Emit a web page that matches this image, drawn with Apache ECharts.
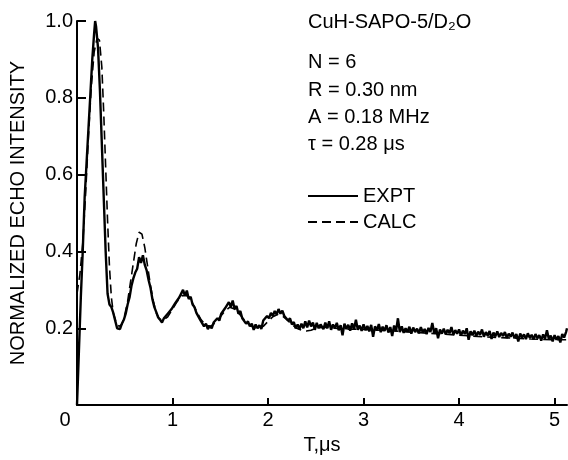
<!DOCTYPE html>
<html>
<head>
<meta charset="utf-8">
<script src="https://cdn.jsdelivr.net/npm/echarts@6/dist/echarts.min.js"></script>
<style>html,body{margin:0;padding:0;background:#fff}#c{width:568px;height:460px}</style>
</head>
<body>
<div id="c"></div>
<script>
// ---- data ----
var xTicks = [0, 1, 2, 3, 4, 5];
var yTicks = [0, 0.2, 0.4, 0.6, 0.8, 1.0];
var seriesNames = ['EXPT', 'CALC'];
var annotation = ['CuH-SAPO-5/D\u2082O', 'N = 6', 'R = 0.30 nm', 'A = 0.18 MHz', '\u03c4 = 0.28 \u03bcs'];

var exptData = [
[0,0],[0.02,0.14],[0.04,0.28],[0.06,0.4],[0.08,0.54],[0.1,0.63],[0.12,0.72],[0.14,0.81],[0.16,0.9],[0.18,0.97],[0.19,1.0],[0.2,0.985],
[0.22,0.93],[0.24,0.82],[0.26,0.68],[0.28,0.54],[0.3,0.4],[0.32,0.29],[0.34,0.262],[0.36,0.255],[0.38,0.24],[0.4,0.22],[0.42,0.2],[0.43,0.196],
[0.45,0.198],[0.47,0.212],[0.49,0.222],[0.51,0.238],[0.53,0.262],[0.55,0.28],[0.57,0.31],[0.59,0.33],[0.61,0.345],[0.63,0.355],[0.65,0.385],
[0.67,0.37],[0.69,0.39],[0.71,0.365],[0.73,0.35],[0.75,0.325],[0.77,0.305],[0.79,0.275],[0.81,0.255],[0.83,0.242],[0.85,0.228],[0.87,0.222],
[0.89,0.215],[0.91,0.226],[0.93,0.222],[0.95,0.238],[0.97,0.236],[0.99,0.25],[1.01,0.248],[1.03,0.266],[1.05,0.262],[1.07,0.28],[1.09,0.285],
[1.11,0.3],[1.13,0.285],[1.15,0.298],[1.17,0.276],[1.19,0.282],[1.21,0.262],[1.23,0.255],[1.25,0.24],[1.27,0.236],[1.29,0.222],[1.31,0.218],
[1.33,0.205],[1.35,0.212],[1.37,0.198],[1.39,0.206],[1.41,0.2],[1.43,0.215],[1.45,0.21],[1.47,0.226],[1.49,0.22],[1.51,0.238],[1.53,0.236],
[1.55,0.252],[1.57,0.248],[1.59,0.268],[1.61,0.256],[1.63,0.272],[1.65,0.25],[1.67,0.258],[1.69,0.238],[1.71,0.245],[1.73,0.226],[1.75,0.23],
[1.77,0.212],[1.79,0.218],[1.81,0.205],[1.83,0.212],[1.85,0.196],[1.87,0.21],[1.89,0.2],[1.91,0.208],[1.93,0.198],[1.95,0.22],[1.97,0.226],
[1.99,0.232],[2.01,0.226],[2.03,0.24],[2.05,0.232],[2.07,0.245],[2.09,0.236],[2.11,0.25],[2.13,0.238],[2.15,0.246],[2.17,0.232],[2.19,0.236],
[2.21,0.22],[2.23,0.226],[2.25,0.21],[2.27,0.216],[2.29,0.2],[2.31,0.21],[2.33,0.198],[2.35,0.212],[2.37,0.2],[2.39,0.218],[2.41,0.202],
[2.43,0.22],[2.45,0.205],[2.47,0.215],[2.49,0.196],[2.51,0.214],[2.53,0.2],[2.55,0.21],
[2.56,0.212],[2.58,0.198],[2.6,0.215],[2.62,0.2],[2.64,0.218],[2.66,0.196],[2.68,0.21],[2.7,0.2],[2.72,0.214],[2.74,0.195],[2.76,0.208],
[2.78,0.182],[2.8,0.212],[2.82,0.198],[2.84,0.209],[2.86,0.194],[2.88,0.213],[2.9,0.197],[2.92,0.222],[2.94,0.196],[2.96,0.207],[2.98,0.193],
[3.0,0.21],[3.02,0.195],[3.04,0.206],[3.06,0.192],[3.08,0.209],[3.1,0.178],[3.12,0.205],[3.14,0.194],[3.16,0.211],[3.18,0.19],[3.2,0.204],
[3.22,0.193],[3.24,0.208],[3.26,0.189],[3.28,0.203],[3.3,0.18],[3.32,0.207],[3.34,0.192],[3.36,0.226],[3.38,0.19],[3.4,0.205],[3.42,0.188],
[3.44,0.2],[3.46,0.191],[3.48,0.204],[3.5,0.186],[3.52,0.202],[3.54,0.19],[3.56,0.199],[3.58,0.187],[3.6,0.203],[3.62,0.189],[3.64,0.198],
[3.66,0.185],[3.68,0.201],[3.7,0.19],[3.72,0.214],[3.74,0.187],[3.76,0.2],[3.78,0.174],[3.8,0.197],[3.82,0.186],[3.84,0.199],[3.86,0.184],
[3.88,0.196],[3.9,0.187],[3.92,0.203],[3.94,0.183],[3.96,0.195],[3.98,0.186],[4.0,0.197],[4.02,0.181],[4.04,0.194],[4.06,0.185],[4.08,0.2],
[4.1,0.17],[4.12,0.192],[4.14,0.182],[4.16,0.194],[4.18,0.18],[4.2,0.191],[4.22,0.183],[4.24,0.197],[4.26,0.178],[4.28,0.19],[4.3,0.181],
[4.32,0.193],[4.34,0.172],[4.36,0.189],[4.38,0.179],[4.4,0.192],[4.42,0.177],[4.44,0.188],[4.46,0.18],[4.48,0.19],[4.5,0.175],[4.52,0.186],
[4.54,0.178],[4.56,0.189],[4.58,0.174],[4.6,0.185],[4.62,0.166],[4.64,0.186],[4.66,0.176],[4.68,0.184],[4.7,0.172],[4.72,0.187],[4.74,0.175],
[4.76,0.183],[4.78,0.171],[4.8,0.185],[4.82,0.174],[4.84,0.182],[4.86,0.168],[4.88,0.184],[4.9,0.173],[4.92,0.195],[4.94,0.172],[4.96,0.181],
[4.98,0.166],[5.0,0.182],[5.02,0.17],[5.04,0.18],[5.06,0.163],[5.08,0.185],[5.1,0.176],[5.12,0.19],[5.13,0.2]
];

var calcData = [
[0,0.29],[0.03,0.34],[0.06,0.42],[0.09,0.55],[0.12,0.7],[0.15,0.83],[0.18,0.92],[0.21,0.955],[0.235,0.95],[0.26,0.88],[0.28,0.76],[0.3,0.62],
[0.32,0.48],[0.34,0.36],[0.36,0.28],[0.38,0.24],[0.41,0.215],[0.44,0.205],[0.47,0.21],[0.5,0.235],[0.53,0.27],[0.56,0.32],[0.59,0.37],
[0.62,0.42],[0.65,0.45],[0.68,0.445],[0.71,0.41],[0.74,0.36],[0.77,0.31],[0.8,0.27],[0.83,0.24],[0.86,0.225],[0.9,0.22],[0.95,0.23],[1.0,0.25],
[1.05,0.27],[1.1,0.285],[1.15,0.285],[1.2,0.27],[1.25,0.245],[1.3,0.222],[1.35,0.208],[1.4,0.205],[1.45,0.215],[1.5,0.23],[1.55,0.245],
[1.6,0.255],[1.65,0.25],[1.7,0.237],[1.75,0.222],[1.8,0.21],[1.85,0.202],[1.9,0.198],[1.95,0.205],[2.0,0.218],[2.05,0.23],[2.1,0.236],
[2.15,0.232],[2.2,0.222],[2.25,0.21],[2.3,0.2],[2.35,0.195],[2.4,0.193],[2.45,0.195],[2.5,0.2],[2.6,0.203],[2.7,0.2],[2.8,0.198],[3.0,0.197],
[3.25,0.194],[3.5,0.19],[3.75,0.186],[4.0,0.182],[4.25,0.178],[4.5,0.175],[4.75,0.172],[5.0,0.17],[5.13,0.17]
];

// ---- chart ----
var FONT = 'Liberation Sans';
var chart = echarts.init(document.getElementById('c'), null, {renderer: 'canvas'});
var rowsY = [22, 62, 90, 117, 144];
var graphics = annotation.map(function (t, i) {
  return {type: 'text', x: 308, y: rowsY[i], style: {text: t, font: '20px "' + FONT + '"', fill: '#000', verticalAlign: 'middle'}};
});
chart.setOption({
  animation: false,
  backgroundColor: '#fff',
  textStyle: {fontFamily: FONT, color: '#000'},
  grid: {left: 77, right: 1, top: 21, bottom: 51, containLabel: false},
  legend: {
    data: seriesNames, orient: 'vertical', left: 307, top: 186, padding: 0,
    itemWidth: 50, itemHeight: 14, itemGap: 6,
    itemStyle: {opacity: 0},
    textStyle: {fontSize: 20, color: '#000', fontFamily: FONT}
  },
  graphic: graphics,
  xAxis: {
    type: 'value', min: 0, max: 5.13, interval: 1,
    name: 'T,\u03bcs', nameLocation: 'middle', nameGap: 28,
    nameTextStyle: {fontSize: 20, color: '#000', fontFamily: FONT},
    splitLine: {show: false},
    axisLine: {lineStyle: {color: '#000', width: 2}},
    axisTick: {inside: true, length: 7, lineStyle: {color: '#000', width: 2}, customValues: xTicks.slice(1)},
    axisLabel: {
      fontSize: 20, color: '#000', margin: 5, customValues: xTicks,
      formatter: function (v) { return v === 0 ? '{z|0}' : String(v); },
      rich: {z: {fontSize: 20, color: '#000', padding: [0, 24, 0, 0], fontFamily: FONT}}
    }
  },
  yAxis: {
    type: 'value', min: 0, max: 1.0, interval: 0.2,
    name: 'NORMALIZED ECHO INTENSITY', nameLocation: 'middle', nameGap: 49,
    nameTextStyle: {fontSize: 20, color: '#000', fontFamily: FONT},
    splitLine: {show: false},
    axisLine: {lineStyle: {color: '#000', width: 2}},
    axisTick: {inside: true, length: 9, lineStyle: {color: '#000', width: 2}, customValues: yTicks.slice(1)},
    axisLabel: {
      fontSize: 20, color: '#000', margin: 4, customValues: yTicks.slice(1),
      formatter: function (v) { return v.toFixed(1); }
    }
  },
  series: [
    {name: 'CALC', type: 'line', data: calcData, symbol: 'none', showSymbol: false, z: 2,
     lineStyle: {color: '#000', width: 1.6, type: [9, 5]}, itemStyle: {color: '#000'}},
    {name: 'EXPT', type: 'line', data: exptData, symbol: 'none', showSymbol: false, z: 3,
     lineStyle: {color: '#000', width: 2.4}, itemStyle: {color: '#000'}}
  ]
});
</script>
</body>
</html>
